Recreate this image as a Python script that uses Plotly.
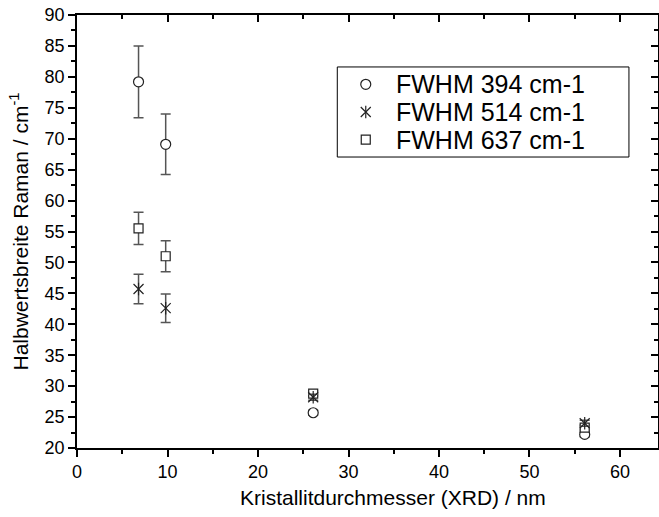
import plotly.graph_objects as go

# Data
x_vals = [6.8, 9.8, 26.1, 56.1]
fwhm_394 = [79.2, 69.1, 25.7, 22.2]
err_394 = [5.8, 4.9, 0.4, 0.4]
fwhm_514 = [45.7, 42.6, 28.2, 24.0]
err_514 = [2.4, 2.3, 0.5, 0.5]
fwhm_637 = [55.5, 51.0, 28.8, 23.3]
err_637 = [2.6, 2.5, 0.4, 0.4]
legend_labels = ["FWHM 394 cm-1", "FWHM 514 cm-1", "FWHM 637 cm-1"]
x_title = "Kristallitdurchmesser (XRD) / nm"
y_title = "Halbwertsbreite Raman / cm<sup>-1</sup>"

FONT = "Liberation Sans, Arial, sans-serif"
ERR_COLOR = "#555555"
MK = "#222222"

def err(arr):
    return dict(type="data", array=arr, visible=True, color=ERR_COLOR, thickness=1.5, width=5)

circle_m = dict(symbol="circle", size=10, color="white", line=dict(color=MK, width=1.2))
square_m = dict(symbol="square", size=9, color="white", line=dict(color=MK, width=1.2))
xthin_m = dict(symbol="x-thin-open", size=10, color=MK, line=dict(color=MK, width=1.2))
vline_m = dict(symbol="line-ns-open", size=9, color=MK, line=dict(color=MK, width=1.2))

fig = go.Figure()

fig.add_trace(go.Scatter(x=x_vals, y=fwhm_394, mode="markers", error_y=err(err_394),
                         marker=circle_m, showlegend=False))
fig.add_trace(go.Scatter(x=x_vals, y=fwhm_637, mode="markers", error_y=err(err_637),
                         marker=square_m, showlegend=False))
fig.add_trace(go.Scatter(x=x_vals, y=fwhm_514, mode="markers", error_y=err(err_514),
                         marker=xthin_m, showlegend=False))
fig.add_trace(go.Scatter(x=x_vals, y=fwhm_514, mode="markers",
                         marker=vline_m, showlegend=False, hoverinfo="skip"))

# mirror axes (top/right) with inward ticks
fig.add_trace(go.Scatter(x=[None], y=[None], xaxis="x2", yaxis="y2", showlegend=False))

# Manual legend on overlay axes
leg_y = [0.84, 0.776, 0.712]
leg_mx = 0.497
for mk, yy in [(circle_m, leg_y[0]), (xthin_m, leg_y[1]), (vline_m, leg_y[1]), (square_m, leg_y[2])]:
    fig.add_trace(go.Scatter(x=[leg_mx], y=[yy], xaxis="x3", yaxis="y3", mode="markers",
                             marker=mk, showlegend=False, hoverinfo="skip"))

annotations = []
for lab, yy in zip(legend_labels, leg_y):
    annotations.append(dict(x=0.545, y=yy, xref="x3", yref="y3", text=lab, showarrow=False,
                            xanchor="left", yanchor="middle",
                            font=dict(family=FONT, size=25, color="black")))
annotations.append(dict(x=0.544, y=-0.083, xref="paper", yref="paper", text=x_title,
                        showarrow=False, xanchor="center", yanchor="top",
                        font=dict(family=FONT, size=21, color="black")))

shapes = [dict(type="rect", xref="x3", yref="y3", x0=0.448, x1=0.95, y0=0.672, y1=0.88,
               line=dict(color="black", width=1), fillcolor="rgba(0,0,0,0)")]

axis_common = dict(showline=True, linecolor="black", linewidth=1.5, showgrid=False, zeroline=False,
                   ticklen=7, tickwidth=1.5, tickcolor="black")

fig.update_layout(
    width=659, height=517,
    margin=dict(l=77, r=1, t=15, b=69),
    paper_bgcolor="white", plot_bgcolor="white",
    font=dict(family=FONT, color="black"),
    xaxis=dict(range=[0, 64.2], dtick=10, tick0=0, ticks="outside",
               minor=dict(dtick=5, ticks="outside", ticklen=4, tickwidth=1.5, tickcolor="black"),
               tickfont=dict(size=18), **axis_common),
    yaxis=dict(range=[20, 90], dtick=5, tick0=20, ticks="outside",
               minor=dict(dtick=2.5, ticks="outside", ticklen=4, tickwidth=1.5, tickcolor="black"),
               title=dict(text=y_title, font=dict(size=21), standoff=10),
               tickfont=dict(size=18), **axis_common),
    xaxis2=dict(overlaying="x", side="top", matches="x", ticks="inside", showticklabels=False,
                minor=dict(dtick=5, ticks="inside", ticklen=4, tickwidth=1.5, tickcolor="black"),
                dtick=10, tick0=0, **axis_common),
    yaxis2=dict(overlaying="y", side="right", matches="y", ticks="inside", showticklabels=False,
                minor=dict(dtick=2.5, ticks="inside", ticklen=4, tickwidth=1.5, tickcolor="black"),
                dtick=5, tick0=20, **axis_common),
    xaxis3=dict(overlaying="x", range=[0, 1], visible=False),
    yaxis3=dict(overlaying="y", range=[0, 1], visible=False),
    annotations=annotations,
    shapes=shapes,
)

fig.write_html("out.html")
